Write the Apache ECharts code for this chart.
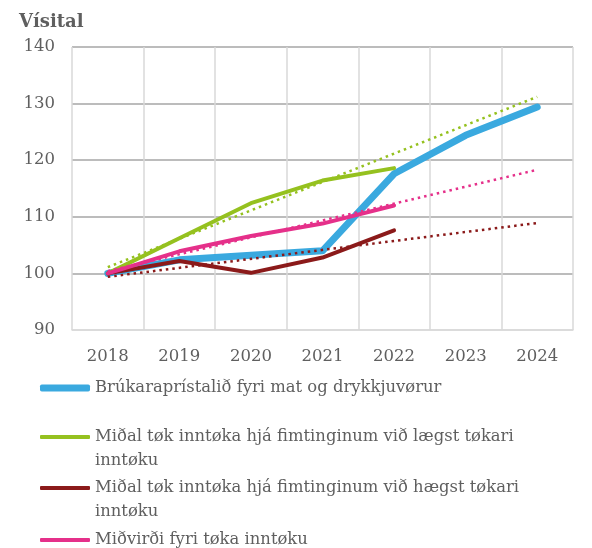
<!DOCTYPE html>
<html><head><meta charset="utf-8">
<script src="https://cdn.jsdelivr.net/npm/echarts@6/dist/echarts.min.js"></script>
<style>html,body{margin:0;padding:0;background:#fff}#c{width:592px;height:548px}</style>
</head><body><div id="c"></div>
<script>
const years = ['2018','2019','2020','2021','2022','2023','2024'];
const foodPrice  = [100, 102.4, 103.2, 104.0, 117.6, 124.4, 129.4];
const lowIncome  = [100, 106.2, 112.4, 116.4, 118.6, null, null];
const highIncome = [100, 102.2, 100.1, 102.8, 107.6, null, null];
const medianInc  = [100, 103.9, 106.6, 108.8, 112.0, null, null];
const lowTrend    = [101.1, null, null, null, null, null, 131.2];
const highTrend   = [99.4, null, null, null, null, null, 108.9];
const medianTrend = [100.4, null, null, null, null, null, 118.3];
const names = [
  'Brúkaraprístalið fyri mat og drykkjuvørur',
  'Miðal tøk inntøka hjá fimtinginum við lægst tøkari inntøku',
  'Miðal tøk inntøka hjá fimtinginum við hægst tøkari inntøku',
  'Miðvirði fyri tøka inntøku'
];
const labelLines = [
  ['Brúkaraprístalið fyri mat og drykkjuvørur'],
  ['Miðal tøk inntøka hjá fimtinginum við lægst tøkari', 'inntøku'],
  ['Miðal tøk inntøka hjá fimtinginum við hægst tøkari', 'inntøku'],
  ['Miðvirði fyri tøka inntøku']
];
const colors = ['#3AA9DF', '#95C11F', '#8B1A1A', '#E5308A'];

const FONT = 'DejaVu Serif';
const TXT = '#5f5f5f';
const LH = 24;

const chart = echarts.init(document.getElementById('c'), null, {renderer: 'canvas'});

const legendTops = [376, 401, 452, 528];
const legends = names.map((n, i) => {
  const multi = labelLines[i].length > 1;
  return {
    data: [n],
    left: 40, top: legendTops[i], padding: 0,
    orient: 'vertical',
    itemWidth: 50, itemHeight: i === 0 ? 7 : 4,
    icon: 'roundRect',
    formatter: () => (multi ? ' \n' : '') + labelLines[i].join('\n'),
    textStyle: {fontFamily: FONT, fontSize: 16.4, color: TXT, lineHeight: LH}
  };
});

function solid(name, data, color, width) {
  return {name, type: 'line', data, symbol: 'none', smooth: false,
    lineStyle: {color, width, cap: 'round', join: 'round'}, itemStyle: {color},
    connectNulls: false};
}
function trend(name, data, color) {
  return {name, type: 'line', data, symbol: 'none', connectNulls: true,
    lineStyle: {color, width: 2.5, type: [2.5, 4]}, itemStyle: {color}, z: 3};
}

chart.setOption({
  animation: false,
  title: {text: 'Vísital', left: 14, top: 8,
    textStyle: {fontFamily: FONT, fontSize: 18, fontWeight: 'bold', color: TXT}},
  legend: legends,
  grid: {left: 72, right: 19, top: 47, bottom: 218, containLabel: false},
  xAxis: {
    type: 'category', data: years, boundaryGap: true,
    axisLine: {show: true, lineStyle: {color: '#D9D9D9', width: 1.5}},
    axisTick: {show: false},
    splitLine: {show: true, interval: 0, lineStyle: {color: '#D9D9D9', width: 1.5}},
    axisLabel: {fontFamily: FONT, fontSize: 16.5, color: TXT, margin: 18}
  },
  yAxis: {
    type: 'value', min: 90, max: 140, interval: 10,
    axisLine: {show: false}, axisTick: {show: false},
    splitLine: {lineStyle: {color: ['#D9D9D9','#A6A6A6','#A6A6A6','#A6A6A6','#A6A6A6','#A6A6A6'], width: 1.5}},
    axisLabel: {fontFamily: FONT, fontSize: 16.5, color: TXT, margin: 17}
  },
  series: [
    solid(names[0], foodPrice, colors[0], 7),
    solid(names[1], lowIncome, colors[1], 4),
    solid(names[2], highIncome, colors[2], 4),
    solid(names[3], medianInc, colors[3], 4),
    trend('lowTrend', lowTrend, colors[1]),
    trend('highTrend', highTrend, colors[2]),
    trend('medianTrend', medianTrend, colors[3])
  ]
});
</script></body></html>
